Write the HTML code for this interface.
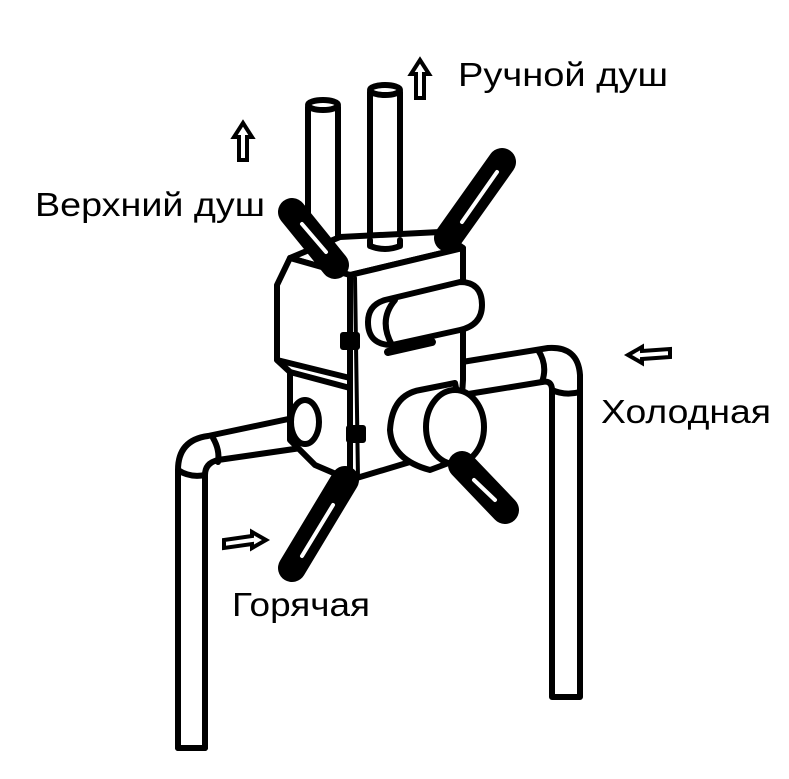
<!DOCTYPE html>
<html><head><meta charset="utf-8"><style>
html,body{margin:0;padding:0;background:#fff;}
svg{display:block;}
text{font-family:"Liberation Sans","DejaVu Sans",sans-serif;fill:#000;}
</style></head><body>
<svg width="789" height="779" viewBox="0 0 789 779" xmlns="http://www.w3.org/2000/svg">
<g fill="none" stroke="#000" stroke-width="6" stroke-linejoin="round" stroke-linecap="round">
<path d="M178,748 L178,470 Q178,440 208,436 L312,414" />
<path d="M205,748 L205,475 Q205,463 218,460 L315,446" fill="#fff"/>
<path d="M178,748 L205,748"/>
<path d="M213,438 Q220,450 218,462"/>
<path d="M178,470 Q190,478 205,475"/>
<path d="M462,362 L548,348 Q578,346 580,375 L580,697 L552,697 L552,390 Q552,380 542,382 L462,395"/>
<path d="M538,350 Q548,365 542,382"/>
<path d="M552,390 Q565,396 580,392"/>
<path d="M308,107 L308,240 M338,107 L338,242" />
<ellipse cx="323" cy="105" rx="15" ry="5"/>
<path d="M370,92 L370,245 M400,92 L400,245"/>
<ellipse cx="385" cy="90" rx="15" ry="5"/>
<path d="M290,258 L340,237 L440,232 L463,248 L350,275 Z" fill="#fff"/>
<path d="M370,240 L370,246 Q385,252 400,246 L400,240"/>
<path d="M290,258 L277,285 L277,360 L290,372 L290,440 L315,465 L350,480 L350,275 Z" fill="#fff"/>
<path d="M277,360 L350,378"/>
<path d="M290,372 L350,388"/>
<path d="M350,275 L463,248 L463,380 L458,455 L410,462 L350,480 Z" fill="#fff"/>
<path d="M355,278 L358,478" stroke-width="4"/>
<rect x="343" y="335" width="14" height="12" fill="#000"/>
<rect x="349" y="428" width="14" height="12" fill="#000"/>
<ellipse cx="305" cy="422" rx="14" ry="22" fill="#fff"/>
<path d="M385,300 L460,282 Q482,282 482,305 Q482,325 460,330 L392,345 Q368,345 368,322 Q368,305 385,300 Z" fill="#fff"/>
<path d="M395,300 Q378,320 392,345"/>
<path d="M388,352 L432,342" stroke-width="8"/>
<path d="M420,390 L455,383 L470,455 L430,470 Q392,460 390,430 Q392,395 420,390 Z" fill="#fff"/>
<ellipse cx="455" cy="427" rx="29" ry="37" fill="#fff"/>
</g>
<g stroke="#000" stroke-linecap="round" fill="none">
<line x1="448" y1="238" x2="502" y2="162" stroke-width="28"/>
<line x1="462" y1="222" x2="497" y2="172" stroke="#fff" stroke-width="4"/>
<line x1="335" y1="265" x2="292" y2="212" stroke-width="28"/>
<line x1="326" y1="252" x2="302" y2="224" stroke="#fff" stroke-width="4"/>
<line x1="345" y1="480" x2="292" y2="568" stroke-width="28"/>
<line x1="333" y1="505" x2="302" y2="556" stroke="#fff" stroke-width="4"/>
<line x1="462" y1="465" x2="505" y2="510" stroke-width="28"/>
<line x1="474" y1="480" x2="495" y2="500" stroke="#fff" stroke-width="4"/>
</g>
<g fill="#fff" stroke="#000" stroke-width="4" stroke-linejoin="miter">
<path d="M420,60 L411,74 L416,74 L416,98 L424,98 L424,74 L429,74 Z"/>
<path d="M243,123 L234,137 L239,137 L239,160 L247,160 L247,137 L252,137 Z"/>
<path d="M628,355 L642,347 L642,351 L670,349 L670,357 L642,359 L642,363 Z"/>
<path d="M266,540 L252,532 L252,536 L224,540 L224,548 L252,544 L252,548 Z"/>
</g>
<text x="458" y="86" font-size="33" textLength="210" lengthAdjust="spacingAndGlyphs">Ручной душ</text>
<text x="35" y="216" font-size="33" textLength="230" lengthAdjust="spacingAndGlyphs">Верхний душ</text>
<text x="601" y="423" font-size="33" textLength="170" lengthAdjust="spacingAndGlyphs">Холодная</text>
<text x="232" y="616" font-size="33" textLength="138" lengthAdjust="spacingAndGlyphs">Горячая</text>
</svg>
</body></html>
